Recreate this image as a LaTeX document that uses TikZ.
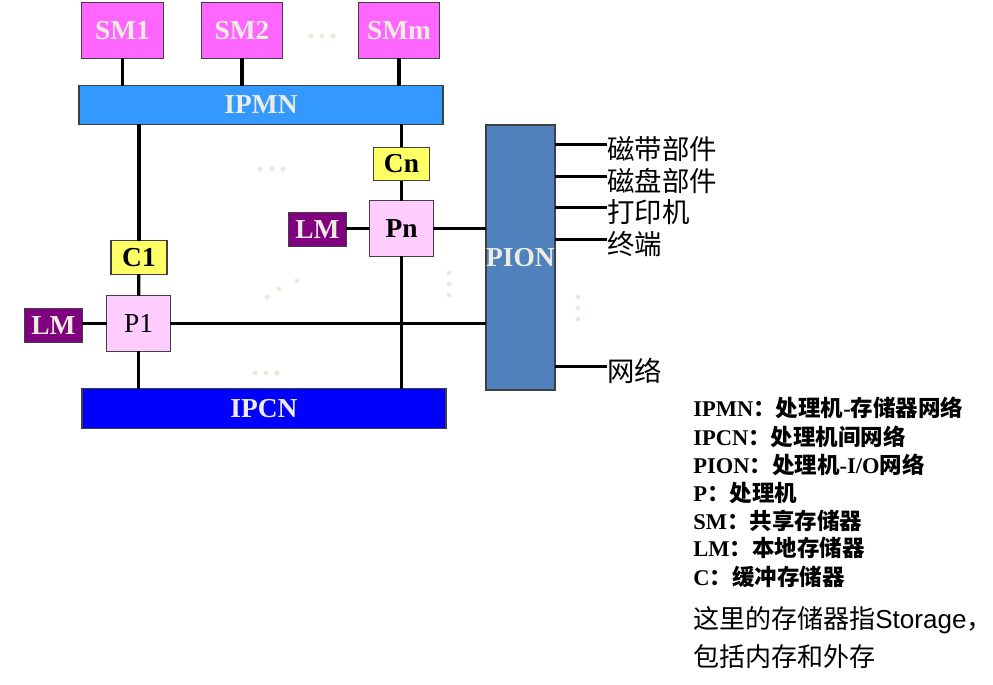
\documentclass[tikz,border=0pt]{standalone}
\usepackage{fontspec}
\setmainfont{Liberation Serif}
\setsansfont{Liberation Sans}
\newfontfamily\cjk{Noto Sans CJK SC}
\usetikzlibrary{positioning}
\definecolor{smpink}{RGB}{255,102,255}
\definecolor{ipmnblue}{RGB}{51,153,255}
\definecolor{ipcnblue}{RGB}{0,0,255}
\definecolor{pionblue}{RGB}{79,129,189}
\definecolor{cyellow}{RGB}{255,255,102}
\definecolor{ppink}{RGB}{255,204,255}
\definecolor{lmpurple}{RGB}{128,0,128}
\definecolor{boxtxt}{RGB}{238,236,225}
\definecolor{dotcol}{RGB}{236,233,218}
\newcommand\zh[1]{{\cjk #1}}

\begin{document}
\begin{tikzpicture}[
  x=0.025cm, y=-0.025cm,
  % all boxes: thin dark frame, light bold serif text
  unit/.style  = {draw=black!75, line width=0.8pt, inner sep=0pt, outer sep=0pt,
                  text=boxtxt, font=\fontsize{19.5}{22}\selectfont\bfseries},
  smbox/.style = {unit, fill=smpink, minimum width=2.03cm, minimum height=1.38cm},
  bus/.style   = {unit, minimum width=9.1cm, minimum height=0.96cm},
  cbox/.style  = {unit, fill=cyellow, text=black, minimum width=1.4cm, minimum height=0.83cm},
  pbox/.style  = {unit, fill=ppink, text=black, minimum width=1.58cm, minimum height=1.38cm},
  lmbox/.style = {unit, fill=lmpurple, minimum width=1.43cm, minimum height=0.83cm},
  io/.style    = {anchor=west, inner sep=0pt, font=\fontsize{19.5}{23}\selectfont\cjk},
  key/.style   = {anchor=west, inner sep=0pt, font=\fontsize{16}{19}\selectfont\bfseries},
  note/.style  = {anchor=west, inner sep=0pt, font=\fontsize{18.5}{23}\selectfont},
  link/.style  = {line width=2.3pt},
]
\useasboundingbox (0,0) rectangle (993,684);

% ── Shared memories and the two buses ──────────────────────────────────────────
\node[smbox] (sm1) at (122.5,30.5) {SM1};
\node[smbox] (sm2) at (242,30.5)   {SM2};
\node[smbox] (smm) at (399,30.5)   {SMm};

\node[bus, fill=ipmnblue] (ipmn) at (261,105) {IPMN};
\node[bus, fill=ipcnblue, minimum height=0.98cm] (ipcn) at (264,408.5) {IPCN};

\node[unit, fill=pionblue, minimum width=1.725cm, minimum height=6.625cm]
      (pion) at (520.5,257.5) {PION};

% ── Processors with their caches and local memories ────────────────────────────
\node[cbox]  (c1)  at (139,257.5)   {C1};
\node[pbox, font=\fontsize{19.5}{22}\selectfont] (p1) at (138.5,323.5) {P1};
\node[lmbox] (lm1) at (53.5,325.5)  {LM};

\node[cbox]  (cn)  at (401.5,164)   {Cn};
\node[pbox]  (pn)  at (401.5,228.5) {Pn};
\node[lmbox] (lmn) at (317.5,229.5) {LM};

% ── Links ──────────────────────────────────────────────────────────────────────
\draw[link] (sm1) -- (sm1 |- ipmn.north);
\draw[link] (sm2) -- (sm2 |- ipmn.north);
\draw[link] (smm) -- (smm |- ipmn.north);

\draw[link] (c1) -- (c1 |- ipmn.south);
\draw[link] (c1) -- (p1);
\draw[link] (p1.west) -- (p1.west -| lm1.east);
\draw[link] (p1) -- (p1 |- ipcn.north);
\draw[link] (p1.east) -- (p1.east -| pion.west);

\draw[link] (cn) -- (cn |- ipmn.south);
\draw[link] (cn) -- (pn);
\draw[link] (pn.west) -- (pn.west -| lmn.east);
\draw[link] (pn) -- (pn |- ipcn.north);
\draw[link] (pn.east) -- (pn.east -| pion.west);

% ── I/O devices on the PION ────────────────────────────────────────────────────
\node[io] (io1) at (607,149) {磁带部件};
\node[io] (io2) at (607,181) {磁盘部件};
\node[io] (io3) at (607,212) {打印机};
\node[io] (io4) at (607,244) {终端};
\node[io] (io5) at (607,371) {网络};
\foreach \n in {io1,io2,io3,io4,io5}
  \draw[link] ([yshift=3pt]\n.west) -- ([yshift=3pt]\n.west -| pion.east);

% ── faint ellipsis dots ────────────────────────────────────────────────────────
\foreach \p in {(311,36),(322,36),(333,36), (260,169),(272,169),(283,169),
                (267,297),(279,289),(297,281), (255,373),(266,373),(277,373),
                (449,273),(449,284),(449,295), (578,297),(578,308),(578,319)}
  \fill[dotcol] \p circle[radius=1.8pt];

% ── Legend ─────────────────────────────────────────────────────────────────────
\node[key] (key1) at (693,408) {IPMN\zh{：处理机}-\zh{存储器网络}};
\node[key] (key2) at (693,437) {IPCN\zh{：处理机间网络}};
\node[key] (key3) at (693,465) {PION\zh{：处理机}-I/O\zh{网络}};
\node[key] (key4) at (693,493) {P\zh{：处理机}};
\node[key] (key5) at (693,521) {SM\zh{：共享存储器}};
\node[key] (key6) at (693,548) {LM\zh{：本地存储器}};
\node[key] (key7) at (693,577) {C\zh{：缓冲存储器}};

\node[note] (note1) at (693,620) {\zh{这里的存储器指}\textsf{Storage}\zh{，}};
\node[note] (note2) at (693,657) {\zh{包括内存和外存}};

\end{tikzpicture}
\end{document}
